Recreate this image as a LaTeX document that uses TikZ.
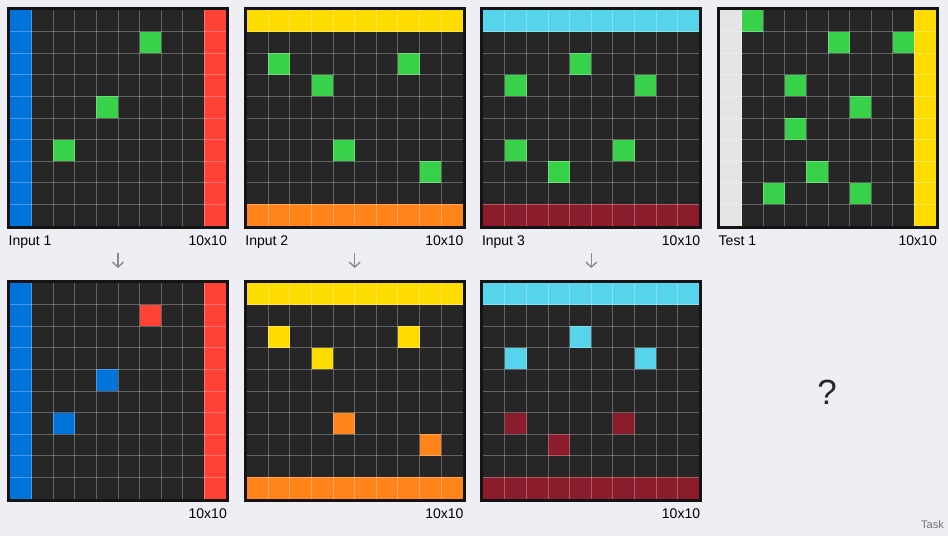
\documentclass[tikz,border=0pt]{standalone}
\usepackage{fontspec}
\setmainfont{Liberation Sans}
\usetikzlibrary{arrows.meta}
\definecolor{bg}{HTML}{EEEEF5}
\definecolor{cellbg}{HTML}{262626}
\definecolor{frame}{HTML}{141414}
\definecolor{arcblue}{HTML}{0074D9}
\definecolor{arcred}{HTML}{FF4136}
\definecolor{arcgreen}{HTML}{38D24A}
\definecolor{arcyellow}{HTML}{FFDC00}
\definecolor{arcorange}{HTML}{FF851B}
\definecolor{arccyan}{HTML}{55D4EC}
\definecolor{arcmaroon}{HTML}{8A1C2C}
\definecolor{arcgray}{HTML}{E4E4E4}
\definecolor{arrowgray}{HTML}{8A8A8A}
\tikzset{
  gridline/.style={white, opacity=0.28, line width=0.9pt},
  gridframe/.style={draw=frame, line width=3pt, minimum width=219pt, minimum height=219pt, inner sep=0pt},
  lbl/.style={font=\fontsize{14}{16}\selectfont, text=black, inner sep=0pt},
  flow/.style={draw=arrowgray, line width=1.4pt, -{Straight Barb[length=5pt,width=11pt]}},
}
\newcommand\vstr[2]{\fill[#1] ({3+21.6*#2},3) rectangle ++(21.6,216);}
\newcommand\hstr[2]{\fill[#1] (3,{3+21.6*#2}) rectangle ++(216,21.6);}
\newcommand\arcgrid[5]{%
  \begin{scope}[shift={(#2,#3)}]
    \fill[cellbg] (3,3) rectangle (219,219);
    #4
    \foreach \r/\c/\col in {#5} {\fill[\col] ({3+21.6*\c},{3+21.6*\r}) rectangle ++(21.6,21.6);}
    \foreach \i in {1,...,9} {
      \draw[gridline] ({3+21.6*\i},3) -- ++(0,216);
      \draw[gridline] (3,{3+21.6*\i}) -- ++(216,0);
    }
    \node[gridframe] (#1) at (111,111) {};
  \end{scope}}
\begin{document}
\begin{tikzpicture}[x=1pt,y=-1pt]
\fill[bg] (0,0) rectangle (948,536);
\useasboundingbox (0,0) rectangle (948,536);

% top row
\arcgrid{in1}{7}{7}{\vstr{arcblue}{0}\vstr{arcred}{9}}{1/6/arcgreen,4/4/arcgreen,6/2/arcgreen}
\arcgrid{in2}{243.7}{7}{\hstr{arcyellow}{0}\hstr{arcorange}{9}}{2/1/arcgreen,2/7/arcgreen,3/3/arcgreen,6/4/arcgreen,7/8/arcgreen}
\arcgrid{in3}{480.3}{7}{\hstr{arccyan}{0}\hstr{arcmaroon}{9}}{2/4/arcgreen,3/1/arcgreen,3/7/arcgreen,6/1/arcgreen,6/6/arcgreen,7/3/arcgreen}
\arcgrid{test1}{717}{7}{\vstr{arcgray}{0}\vstr{arcyellow}{9}}{0/1/arcgreen,1/5/arcgreen,1/8/arcgreen,3/3/arcgreen,4/6/arcgreen,5/3/arcgreen,7/4/arcgreen,8/2/arcgreen,8/6/arcgreen}

% bottom row
\arcgrid{out1}{7}{280}{\vstr{arcblue}{0}\vstr{arcred}{9}}{1/6/arcred,4/4/arcblue,6/2/arcblue}
\arcgrid{out2}{243.7}{280}{\hstr{arcyellow}{0}\hstr{arcorange}{9}}{2/1/arcyellow,2/7/arcyellow,3/3/arcyellow,6/4/arcorange,7/8/arcorange}
\arcgrid{out3}{480.3}{280}{\hstr{arccyan}{0}\hstr{arcmaroon}{9}}{2/4/arccyan,3/1/arccyan,3/7/arccyan,6/1/arcmaroon,6/6/arcmaroon,7/3/arcmaroon}

% labels
\node[lbl, anchor=base west] (l1) at (8.5,245) {Input 1};
\node[lbl, anchor=base east] (s1) at (227,245) {10x10};
\node[lbl, anchor=base west] (l2) at (245.2,245) {Input 2};
\node[lbl, anchor=base east] (s2) at (463.7,245) {10x10};
\node[lbl, anchor=base west] (l3) at (481.8,245) {Input 3};
\node[lbl, anchor=base east] (s3) at (700.3,245) {10x10};
\node[lbl, anchor=base west] (l4) at (718.5,245) {Test 1};
\node[lbl, anchor=base east] (s4) at (937,245) {10x10};
\node[lbl, anchor=base east] (o1) at (227,518) {10x10};
\node[lbl, anchor=base east] (o2) at (463.7,518) {10x10};
\node[lbl, anchor=base east] (o3) at (700.3,518) {10x10};

% arrows
\coordinate (a1s) at (118,253); \coordinate (a1e) at (118,268);
\coordinate (a2s) at (354.7,253); \coordinate (a2e) at (354.7,268);
\coordinate (a3s) at (591.3,253); \coordinate (a3e) at (591.3,268);
\draw[flow] (a1s) -- (a1e);
\draw[flow] (a2s) -- (a2e);
\draw[flow] (a3s) -- (a3e);

% unknown answer
\node[font=\fontsize{35}{38}\selectfont, text=black!85, inner sep=0pt] (q) at (827,392) {?};
\node[font=\fontsize{11}{13}\selectfont, text=black!55, anchor=base east, inner sep=0pt] (task) at (944,528) {Task};
\end{tikzpicture}
\end{document}
